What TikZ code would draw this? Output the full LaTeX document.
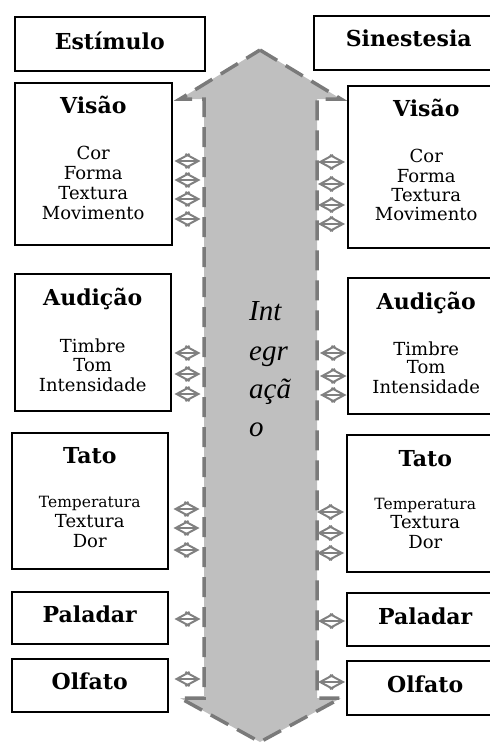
\documentclass[tikz,border=0pt]{standalone}
\usepackage{fontspec}
\setmainfont{DejaVu Serif}
\newfontfamily\intfont{Liberation Serif}
\usetikzlibrary{arrows.meta}
\definecolor{arrfill}{HTML}{BFBFBF}
\definecolor{arrdash}{HTML}{7A7A7A}
\definecolor{conncol}{HTML}{808080}
\begin{document}
\begin{tikzpicture}[x=1pt,y=-1pt,
  box/.style={draw=black, line width=1.5pt, inner sep=0pt, anchor=north west},
  ttl/.style={font=\fontsize{22}{26}\selectfont\bfseries, inner sep=0pt, anchor=base},
  itm/.style={font=\fontsize{18}{20}\selectfont, inner sep=0pt, anchor=base},
  itms/.style={font=\fontsize{15.5}{20}\selectfont, inner sep=0pt, anchor=base},
  intg/.style={font=\intfont\fontsize{29}{32}\selectfont\itshape, inner sep=0pt, anchor=base west},
  conn/.style={draw=conncol, line width=2pt, >={Straight Barb[length=13pt,width=14pt]}, <->},
  bigarrow/.style={draw=arrdash, fill=arrfill, line width=3.5pt, dash pattern=on 20pt off 10pt}]
\useasboundingbox (0,0) rectangle (490,745);
\clip (0,0) rectangle (490,745);

% central double arrow
\draw[bigarrow] (260,50) -- (341,99) -- (317,99) -- (317,698) -- (341,698) -- (260,742)
  -- (180,698) -- (204,698) -- (204,99) -- (180,99) -- cycle;
\coordinate (shL) at (204,0);
\coordinate (shR) at (317,0);

\node[intg] (int1) at (249,320) {Int};
\node[intg] (int2) at (249,360) {egr};
\node[intg] (int3) at (249,398) {açã};
\node[intg] (int4) at (249,436) {o};

% boxes
\node[box, minimum width=190pt, minimum height=54pt] (estL) at (14,16) {};
\node[box, minimum width=190pt, minimum height=54pt] (sinR) at (313,15) {};
\node[box, minimum width=157pt, minimum height=162pt] (visL) at (14,82) {};
\node[box, minimum width=157pt, minimum height=162pt] (visR) at (347,85) {};
\node[box, minimum width=156pt, minimum height=137pt] (audL) at (14,273) {};
\node[box, minimum width=157pt, minimum height=136pt] (audR) at (347,277) {};
\node[box, minimum width=156pt, minimum height=136pt] (tatL) at (11,432) {};
\node[box, minimum width=157pt, minimum height=137pt] (tatR) at (346,434) {};
\node[box, minimum width=156pt, minimum height=52pt] (palL) at (11,591) {};
\node[box, minimum width=157pt, minimum height=53pt] (palR) at (346,592) {};
\node[box, minimum width=156pt, minimum height=53pt] (olfL) at (11,658) {};
\node[box, minimum width=157pt, minimum height=54pt] (olfR) at (346,660) {};

% titles
\node[ttl] (estT) at (estL.center |- 0,49) {Estímulo};
\node[ttl] (sinT) at (sinR.center |- 0,46) {Sinestesia};
\node[ttl] (visLT) at (visL.center |- 0,113) {Visão};
\node[ttl] (visRT) at (visR.center |- 0,116) {Visão};
\node[ttl] (audLT) at (audL.center |- 0,305) {Audição};
\node[ttl] (audRT) at (audR.center |- 0,309) {Audição};
\node[ttl] (tatLT) at (tatL.center |- 0,463) {Tato};
\node[ttl] (tatRT) at (tatR.center |- 0,466) {Tato};
\node[ttl] (palLT) at (palL.center |- 0,622) {Paladar};
\node[ttl] (palRT) at (palR.center |- 0,624) {Paladar};
\node[ttl] (olfLT) at (olfL.center |- 0,689) {Olfato};
\node[ttl] (olfRT) at (olfR.center |- 0,692) {Olfato};

% items
\node[itm] (visL1) at (visL.center |- 0,159) {Cor};
\node[itm] (visL2) at (visL.center |- 0,179) {Forma};
\node[itm] (visL3) at (visL.center |- 0,199) {Textura};
\node[itm] (visL4) at (visL.center |- 0,219) {Movimento};
\node[itm] (visR1) at (visR.center |- 0,162) {Cor};
\node[itm] (visR2) at (visR.center |- 0,182) {Forma};
\node[itm] (visR3) at (visR.center |- 0,201) {Textura};
\node[itm] (visR4) at (visR.center |- 0,220) {Movimento};
\node[itm] (audL1) at (audL.center |- 0,352) {Timbre};
\node[itm] (audL2) at (audL.center |- 0,371) {Tom};
\node[itm] (audL3) at (audL.center |- 0,391) {Intensidade};
\node[itm] (audR1) at (audR.center |- 0,355) {Timbre};
\node[itm] (audR2) at (audR.center |- 0,373) {Tom};
\node[itm] (audR3) at (audR.center |- 0,393) {Intensidade};
\node[itms] (tatL1) at (tatL.center |- 0,507) {Temperatura};
\node[itm] (tatL2) at (tatL.center |- 0,527) {Textura};
\node[itm] (tatL3) at (tatL.center |- 0,547) {Dor};
\node[itms] (tatR1) at (tatR.center |- 0,509) {Temperatura};
\node[itm] (tatR2) at (tatR.center |- 0,528) {Textura};
\node[itm] (tatR3) at (tatR.center |- 0,548) {Dor};

% connectors left
\foreach \y in {161,180,199,219}
  \draw[conn, shorten <=2pt, shorten >=3.5pt] (visL.east |- 0,\y) -- (shL |- 0,\y);
\foreach \y in {353,374,394}
  \draw[conn, shorten <=3pt, shorten >=3.5pt] (audL.east |- 0,\y) -- (shL |- 0,\y);
\foreach \y in {509,528,550}
  \draw[conn, shorten <=5pt, shorten >=4.5pt] (tatL.east |- 0,\y) -- (shL |- 0,\y);
\draw[conn, shorten <=6pt, shorten >=3.5pt] (palL.east |- 0,619) -- (shL |- 0,619);
\draw[conn, shorten <=6pt, shorten >=3.5pt] (olfL.east |- 0,679) -- (shL |- 0,679);

% connectors right
\foreach \y in {162,184,205,224}
  \draw[conn, shorten <=1pt, shorten >=2pt] (shR |- 0,\y) -- (visR.west |- 0,\y);
\foreach \y in {353,376,395}
  \draw[conn, shorten <=3pt, shorten >=0.5pt] (shR |- 0,\y) -- (audR.west |- 0,\y);
\foreach \y in {512,533,553}
  \draw[conn, shorten <=0pt, shorten >=2pt] (shR |- 0,\y) -- (tatR.west |- 0,\y);
\draw[conn, shorten <=1pt, shorten >=1pt] (shR |- 0,621) -- (palR.west |- 0,621);
\draw[conn, shorten <=1pt, shorten >=1pt] (shR |- 0,682) -- (olfR.west |- 0,682);
\end{tikzpicture}
\end{document}
